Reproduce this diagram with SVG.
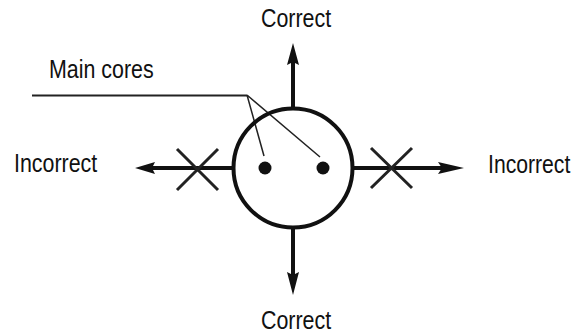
<svg xmlns="http://www.w3.org/2000/svg" width="582" height="334" viewBox="0 0 582 334">
<defs><style>
text{font-family:"Liberation Sans",Arial,sans-serif;font-size:25.5px;fill:#111}
.l{stroke:#111;fill:none;stroke-width:4}
.x{stroke:#222;fill:none;stroke-width:3}
.t{stroke:#222;fill:none;stroke-width:1.5}
.a{fill:#111;stroke:none}
</style></defs>
<rect width="582" height="334" fill="#fff"/>
<g id="connectors">
<path class="l" d="M293 110V60M293 228V275M233 168H152M353 168H442"/>
<path class="a" d="M293 43L299 65L293 62L287 65ZM293 295L287 272L293 275L299 272ZM135 168L155 162L152 168L155 174ZM464 168L438 162L442 168L438 174Z"/>
<path class="x" d="M177 149L218 190M218 149L177 190M371 148L412 188M412 148L371 188"/>
<path class="t" d="M32 95.5H247" style="stroke-width:1.8"/>
<path class="t" d="M247 95L264 156M247 95L320 157"/>
</g>
<g id="core"><circle class="l" cx="293" cy="168" r="59.5"/><circle class="a" cx="265" cy="168" r="6.5"/><circle class="a" cx="323" cy="168" r="6.5"/></g>
<g id="label-main"><text transform="translate(49 78) scale(.84 1)">Main cores</text></g>
<g id="label-top"><text transform="translate(261 27) scale(.84 1)">Correct</text></g>
<g id="label-bottom"><text transform="translate(261 329) scale(.84 1)">Correct</text></g>
<g id="label-left"><text transform="translate(14 172) scale(.84 1)">Incorrect</text></g>
<g id="label-right"><text transform="translate(488 173) scale(.83 1)">Incorrect</text></g>
</svg>
